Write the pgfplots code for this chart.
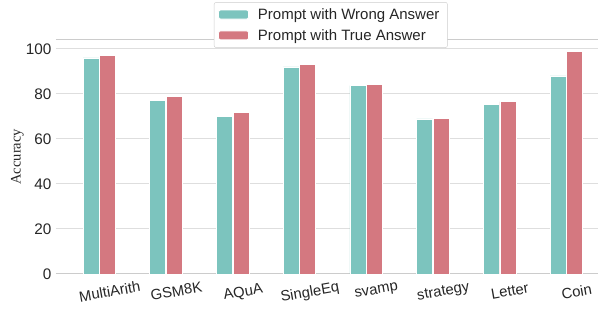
\documentclass[border=0pt]{standalone}
\usepackage{fontspec}
\setmainfont{Liberation Sans}
\newfontfamily\serifrm{Liberation Serif}
\usepackage{pgfplots}
\pgfplotsset{compat=1.18}
\definecolor{teal1}{RGB}{124,196,190}
\definecolor{red1}{RGB}{212,120,128}
\definecolor{txt}{RGB}{38,38,38}
\definecolor{gridc}{RGB}{222,222,222}
\definecolor{spine}{RGB}{204,204,204}
\begin{document}
\begin{tikzpicture}[x=1pt,y=1pt]
\begin{axis}[
  at={(56pt,37pt)}, anchor=south west,
  scale only axis,
  width=542pt, height=234.5pt,
  xmin=-0.652, xmax=7.474,
  ymin=0, ymax=104.2,
  ytick={0,20,40,60,80,100},
  xtick={0,1,2,3,4,5,6,7},
  xticklabels={MultiArith,GSM8K,AQuA,SingleEq,svamp,strategy,Letter,Coin},
  /pgf/number format/assume math mode=true,
  yticklabel style={font=\fontsize{15.3}{17}\selectfont, text=txt, xshift=-1pt},
  xticklabel style={font=\fontsize{14.8}{17}\selectfont, text=txt, rotate=10, anchor=north, yshift=-10pt, xshift=7pt},
  major tick length=0pt,
  separate axis lines,
  axis x line*=box,
  axis y line*=left,
  y axis line style={draw=none},
  x axis line style={draw=spine, line width=1pt},
  ymajorgrids,
  grid style={draw=gridc, line width=1pt},
  ylabel={\serifrm Accuracy},
  ylabel style={at={(axis description cs:-0.071,0.5)}, anchor=center, font=\fontsize{14.5}{16}\selectfont, text=txt},
  ybar, bar width=16pt,
  legend style={at={(axis description cs:0.507,1.062)}, anchor=center,
    draw=spine, rounded corners=2pt, font=\fontsize{15}{17}\selectfont, text=txt,
    row sep=4.5pt, inner xsep=4pt, inner ysep=4pt,
    legend cell align=left,
    nodes={inner xsep=4pt}},
  legend image code/.code={\fill[#1] (0pt,-4.5pt) rectangle (30pt,4.5pt);},
]
\addplot+[bar shift=-8.3pt, fill=teal1, draw=white, line width=0.8pt] coordinates {
(0,96) (1,77) (2,70) (3,92) (4,83.7) (5,68.9) (6,75.2) (7,88)};
\addplot+[bar shift=8.3pt, fill=red1, draw=white, line width=0.8pt] coordinates {
(0,97) (1,78.8) (2,71.8) (3,93) (4,84.1) (5,69) (6,76.6) (7,98.8)};
\legend{{\hspace*{5pt}Prompt with Wrong Answer}, {\hspace*{5pt}Prompt with True Answer}}
\end{axis}
\pgfresetboundingbox
\path (0,0) rectangle (598pt,311pt);
\end{tikzpicture}
\end{document}
